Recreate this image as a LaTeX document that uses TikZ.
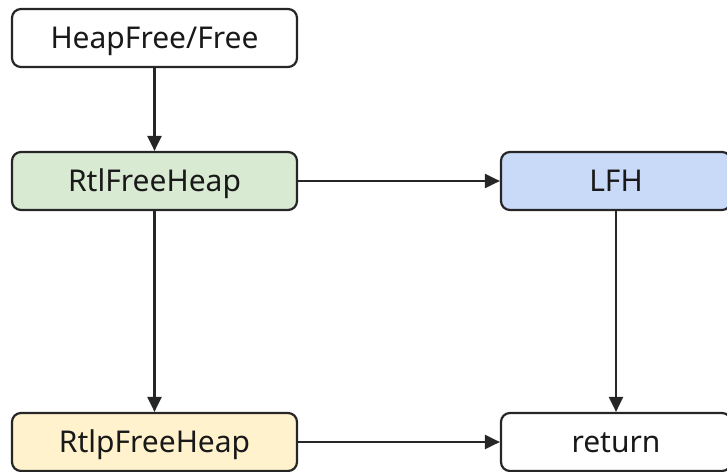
\documentclass[tikz,border=0pt]{standalone}
\usepackage{fontspec}
\setmainfont{Noto Sans}
\usetikzlibrary{arrows.meta}
\definecolor{greenfill}{HTML}{D9EAD3}
\definecolor{bluefill}{HTML}{C9DAF8}
\definecolor{yellowfill}{HTML}{FFF2CC}
\begin{document}
\begin{tikzpicture}[x=1pt,y=-1pt,
  box/.style={draw=black!85, line width=2.2pt, rounded corners=9pt, minimum height=58pt,
    inner sep=0pt, text height=21.4pt, text depth=0pt,
    font=\fontsize{30}{34}\selectfont, text=black!90},
  wide/.style={box, minimum width=285pt},
  narrow/.style={box, minimum width=230pt},
  link/.style={draw=black!85, line width=2.2pt, -{Triangle[length=15pt,width=14pt]}}]
  \path[use as bounding box] (0,0) rectangle (727,471);
  \begin{scope}
    \clip (0,0) rectangle (727,471);
    \node[wide, fill=white] (free) at (154.5,38) {HeapFree/Free};
    \node[wide, fill=greenfill] (rtl) at (154.5,181) {RtlFreeHeap};
    \node[narrow, fill=bluefill] (lfh) at (616,181) {LFH};
    \node[wide, fill=yellowfill] (rtlp) at (154.5,442) {RtlpFreeHeap};
    \node[narrow, fill=white] (ret) at (616,442) {return};
  \end{scope}
  \draw[link] (free) -- (rtl);
  \draw[link] (rtl) -- (rtlp);
  \draw[link] (rtl) -- (lfh);
  \draw[link] (lfh) -- (ret);
  \draw[link] (rtlp) -- (ret);
\end{tikzpicture}
\end{document}
